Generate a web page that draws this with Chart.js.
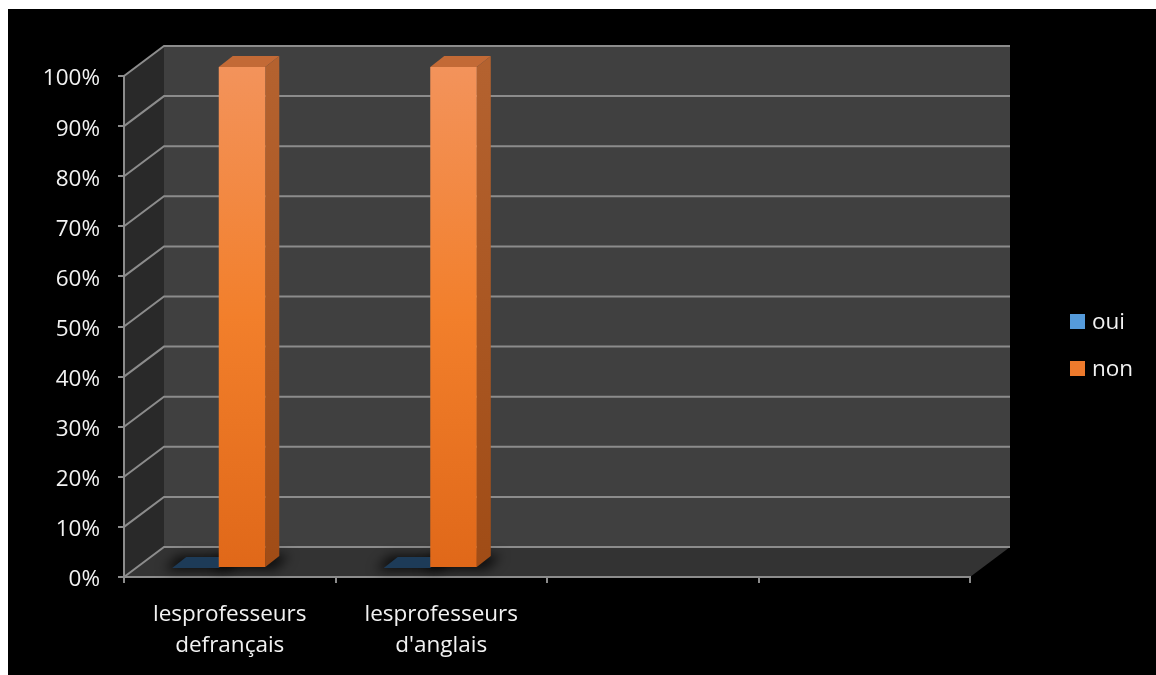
<!DOCTYPE html>
<html>
<head>
<meta charset="utf-8">
<script src="https://cdn.jsdelivr.net/npm/chart.js@4.4.1/dist/chart.umd.min.js"></script>
<style>
  html, body { margin: 0; padding: 0; background: #ffffff; }
  #frame { position: absolute; left: 8px; top: 9px; width: 1148px; height: 666px; background: #000000; }
  canvas { display: block; }
</style>
</head>
<body>
<div id="frame"><canvas id="chart" width="1148" height="666"></canvas></div>
<script>
// ---- data ----
const categories = [['lesprofesseurs', 'defrançais'], ['lesprofesseurs', "d'anglais"], '', ''];
const seriesNames = ['oui', 'non'];
const ouiValues = [0, 0, null, null];
const nonValues = [100, 100, null, null];
const yTickLabels = ['0%', '10%', '20%', '30%', '40%', '50%', '60%', '70%', '80%', '90%', '100%'];

// ---- style ----
const FONT = "'Open Sans', sans-serif";
const FONT_SIZE = 22.5;
const TEXT = '#f2f2f2';
const LINE = '#8c8c8c';
const WALL_DX = 40, WALL_DY = -30;      // depth of the box (front plane -> back wall)
const ROW_DX = -11, ROW_DY = -9;        // the bar row sits a little inside the box
const BAR_DX = 14, BAR_DY = -11;        // depth of each column
const legendColors = ['#559bdb', '#ee7a2c'];
const faceColors = [
  { side: '#1c3550', top: '#1d3b58' },
  { side: ['#b4622f', '#a04c16'], top: '#c36a36' }
];

function poly(ctx, pts) {
  ctx.beginPath();
  ctx.moveTo(pts[0][0], pts[0][1]);
  for (let i = 1; i < pts.length; i++) ctx.lineTo(pts[i][0], pts[i][1]);
  ctx.closePath();
  ctx.fill();
}

function frontGradient(stops) {
  return (c) => {
    const area = c.chart.chartArea;
    if (!area) return stops[stops.length - 1];
    const g = c.chart.ctx.createLinearGradient(0, area.top, 0, area.bottom);
    stops.forEach((s, i) => g.addColorStop(i / (stops.length - 1), s));
    return g;
  };
}

function eachBar(chart, fn) {
  chart.data.datasets.forEach((ds, i) => {
    chart.getDatasetMeta(i).data.forEach((el, j) => {
      if (ds.data[j] === null) return;
      fn(el.getProps(['x', 'y', 'base', 'width'], true), i);
    });
  });
}

// walls, floor and back grid of the 3D box, plus the column depth faces
const box3d = {
  id: 'box3d',
  beforeDraw(chart) {
    const { ctx, chartArea: a, scales: { y } } = chart;
    const l = a.left, r = a.right, t = a.top, b = a.bottom;
    ctx.save();
    ctx.fillStyle = '#292929';
    poly(ctx, [[l, t], [l + WALL_DX, t + WALL_DY], [l + WALL_DX, b + WALL_DY], [l, b]]);
    ctx.fillStyle = '#404040';
    ctx.fillRect(l + WALL_DX, t + WALL_DY, r - l, b - t);
    ctx.fillStyle = '#333333';
    poly(ctx, [[l, b], [l + WALL_DX, b + WALL_DY], [r + WALL_DX, b + WALL_DY], [r, b]]);
    ctx.strokeStyle = LINE;
    ctx.lineWidth = 2;
    y.ticks.forEach((tk) => {
      const py = y.getPixelForValue(tk.value);
      ctx.beginPath();
      ctx.moveTo(l, py);
      ctx.lineTo(l + WALL_DX, py + WALL_DY);
      ctx.lineTo(r + WALL_DX, py + WALL_DY);
      ctx.stroke();
    });
    ctx.restore();
  },
  beforeDatasetsDraw(chart) {
    const ctx = chart.ctx;
    ctx.save();
    ctx.translate(ROW_DX, ROW_DY);
    // soft shadow under each column
    eachBar(chart, ({ x, base, width }) => {
      const L = x - width / 2 - 8, R = x + width / 2 + 6;
      ctx.save();
      ctx.filter = 'blur(6px)';
      ctx.fillStyle = 'rgba(0,0,0,0.8)';
      poly(ctx, [[L, base + 2], [L + BAR_DX, base + BAR_DY - 1], [R + BAR_DX + 4, base + BAR_DY - 1], [R + 4, base + 2]]);
      ctx.restore();
    });
    // side and top faces; the front faces drawn by the bar elements cover what lies behind them
    eachBar(chart, ({ x, y, base, width }, i) => {
      const fc = faceColors[i];
      const L = x - width / 2, R = x + width / 2;
      if (y < base - 0.5) {
        const g = ctx.createLinearGradient(0, y, 0, base);
        const s = Array.isArray(fc.side) ? fc.side : [fc.side, fc.side];
        g.addColorStop(0, s[0]);
        g.addColorStop(1, s[1]);
        ctx.fillStyle = g;
        poly(ctx, [[R, y], [R + BAR_DX, y + BAR_DY], [R + BAR_DX, base + BAR_DY], [R, base]]);
      }
      ctx.fillStyle = fc.top;
      poly(ctx, [[L, y], [L + BAR_DX, y + BAR_DY], [R + BAR_DX, y + BAR_DY], [R, y]]);
    });
  },
  afterDatasetsDraw(chart) {
    chart.ctx.restore();
  }
};

// legend at the right of the box
const sideLegend = {
  id: 'sideLegend',
  afterDraw(chart, _args, opts) {
    const ctx = chart.ctx;
    ctx.save();
    ctx.font = `${FONT_SIZE}px ${FONT}`;
    ctx.textBaseline = 'middle';
    ctx.textAlign = 'left';
    chart.data.datasets.forEach((ds, i) => {
      const cy = opts.y + i * opts.gap;
      ctx.fillStyle = legendColors[i];
      ctx.fillRect(opts.x, cy - 7.5, 15, 15);
      ctx.fillStyle = TEXT;
      ctx.fillText(ds.label, opts.x + 22, cy + 1);
    });
    ctx.restore();
  }
};

new Chart(document.getElementById('chart'), {
  type: 'bar',
  data: {
    labels: categories,
    datasets: [
      {
        label: seriesNames[0],
        data: ouiValues,
        backgroundColor: frontGradient(['#6aaae6', '#4d8fd0']),
        borderWidth: 0,
        clip: false,
        categoryPercentage: 0.44,
        barPercentage: 1.0
      },
      {
        label: seriesNames[1],
        data: nonValues,
        backgroundColor: frontGradient(['#f3935b', '#f27f2b', '#e06819']),
        borderWidth: 0,
        clip: false,
        categoryPercentage: 0.44,
        barPercentage: 1.0
      }
    ]
  },
  options: {
    responsive: false,
    devicePixelRatio: 1,
    animation: false,
    layout: { padding: { top: 67, bottom: 0, left: 0, right: 186 } },
    plugins: {
      legend: { display: false },
      tooltip: { enabled: false },
      sideLegend: { x: 1062, y: 312.5, gap: 47 }
    },
    scales: {
      x: {
        afterFit: (s) => { s.height = 98; },
        border: { display: true, color: LINE, width: 2 },
        grid: { offset: true, drawOnChartArea: false, drawTicks: true, tickLength: 6, color: LINE, lineWidth: 2 },
        ticks: { color: TEXT, font: { family: FONT, size: FONT_SIZE, lineHeight: 1.34 }, padding: 17, maxRotation: 0, autoSkip: false }
      },
      y: {
        min: 0,
        max: 100,
        afterFit: (s) => { s.width = 116; },
        border: { display: true, color: LINE, width: 2 },
        grid: { drawOnChartArea: false, drawTicks: true, tickLength: 6, color: LINE, lineWidth: 2 },
        ticks: {
          stepSize: 10,
          padding: 18,
          labelOffset: 3,
          color: TEXT,
          font: { family: FONT, size: FONT_SIZE },
          callback: (v, i) => yTickLabels[i]
        }
      }
    }
  },
  plugins: [box3d, sideLegend]
});
</script>
</body>
</html>
